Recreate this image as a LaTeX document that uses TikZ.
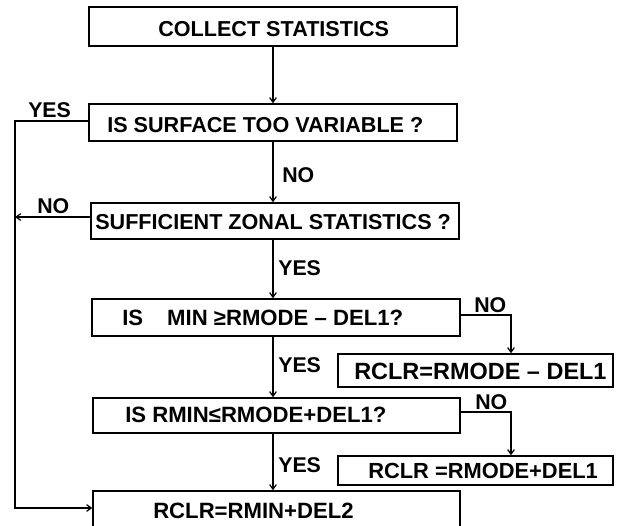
\documentclass[tikz,border=0pt]{standalone}
\usepackage{fontspec}
\setmainfont{Liberation Sans}
\usetikzlibrary{arrows.meta}
\begin{document}
\begin{tikzpicture}[x=0.75pt,y=-0.75pt,
  box/.style={draw, line width=1.1pt, inner sep=0pt},
  txt/.style={font=\bfseries\fontsize{16.2pt}{18pt}\selectfont, inner sep=0pt, anchor=base west},
  txtb/.style={font=\bfseries\fontsize{16.6pt}{18pt}\selectfont, inner sep=0pt, anchor=base west},
  txtc/.style={font=\bfseries\fontsize{17.6pt}{18pt}\selectfont, inner sep=0pt, anchor=base west},
  txtd/.style={font=\bfseries\fontsize{16.4pt}{18pt}\selectfont, inner sep=0pt, anchor=base west},
  lbl/.style={font=\bfseries\fontsize{16pt}{18pt}\selectfont, inner sep=0pt, anchor=base west},
  arr/.style={line width=0.9pt, -{Straight Barb[length=3.5pt,width=5pt]}},
  ln/.style={line width=0.9pt}]
\path[use as bounding box] (0,0) rectangle (617,525);
\clip (0,0) rectangle (617,525);
% boxes
\node[box, minimum width=368*0.75pt, minimum height=39*0.75pt] (b1) at (273,26.5) {};
\node[box, minimum width=368*0.75pt, minimum height=37*0.75pt] (b2) at (273,122.5) {};
\node[box, minimum width=368*0.75pt, minimum height=36*0.75pt] (b3) at (275,221) {};
\node[box, minimum width=368*0.75pt, minimum height=37*0.75pt] (b4) at (276,317.5) {};
\node[box, minimum width=367*0.75pt, minimum height=35*0.75pt] (b5) at (276.5,415.5) {};
\node[box, minimum width=367*0.75pt, minimum height=42*0.75pt] (b6) at (276.5,512) {};
\node[box, minimum width=275*0.75pt, minimum height=33*0.75pt] (bA) at (475.5,370.5) {};
\node[box, minimum width=275*0.75pt, minimum height=29*0.75pt] (bB) at (475.5,470.5) {};
% texts
\node[txt] (t1) at (158,36) {COLLECT STATISTICS};
\node[txt] (t2) at (107,132) {IS SURFACE TOO VARIABLE ?};
\node[txt] (t3) at (95,229) {SUFFICIENT ZONAL STATISTICS ?};
\node[txtb] (t4) at (122,325) {IS\hspace{18pt}MIN ≥RMODE – DEL1?};
\node[txtb] (t5) at (125,422) {IS RMIN≤RMODE+DEL1?};
\node[txtb] (t6) at (153,518) {RCLR=RMIN+DEL2};
\node[txtc] (tA) at (354,379) {RCLR=RMODE – DEL1};
\node[txtd] (tB) at (368,478) {RCLR =RMODE+DEL1};
% labels
\node[lbl] (y1) at (28,117) {YES};
\node[lbl] (n1) at (282,182) {NO};
\node[lbl] (n2) at (37,213) {NO};
\node[lbl] (y2) at (278,275) {YES};
\node[lbl] (n3) at (474,312) {NO};
\node[lbl] (y3) at (278,372) {YES};
\node[lbl] (n4) at (475,409) {NO};
\node[lbl] (y4) at (278,472) {YES};
% helper coordinates
\coordinate (sp) at (273,0);
\coordinate (L1) at (15,121);
\coordinate (L2) at (15,508);
\coordinate (cA) at (511,315);
\coordinate (cB) at (511,412);
% connectors
\draw[arr] (b1.south) -- (b2.north);
\draw[arr] (b2.south -| sp) -- (b3.north -| sp);
\draw[arr] (b3.south -| sp) -- (b4.north -| sp);
\draw[arr] (b4.south -| sp) -- (b5.north -| sp);
\draw[arr] (b5.south -| sp) -- (b6.north -| sp);
\draw[arr] (b2.west |- L1) -- (L1) -- (L2) -- (L2 -| b6.west);
\draw[arr] (b3.west |- 0,217) -- (15,217);
\draw[arr] (b4.east |- cA) -- (cA) -- (cA |- bA.north);
\draw[arr] (b5.east |- cB) -- (cB) -- (cB |- bB.north);
\end{tikzpicture}
\end{document}
